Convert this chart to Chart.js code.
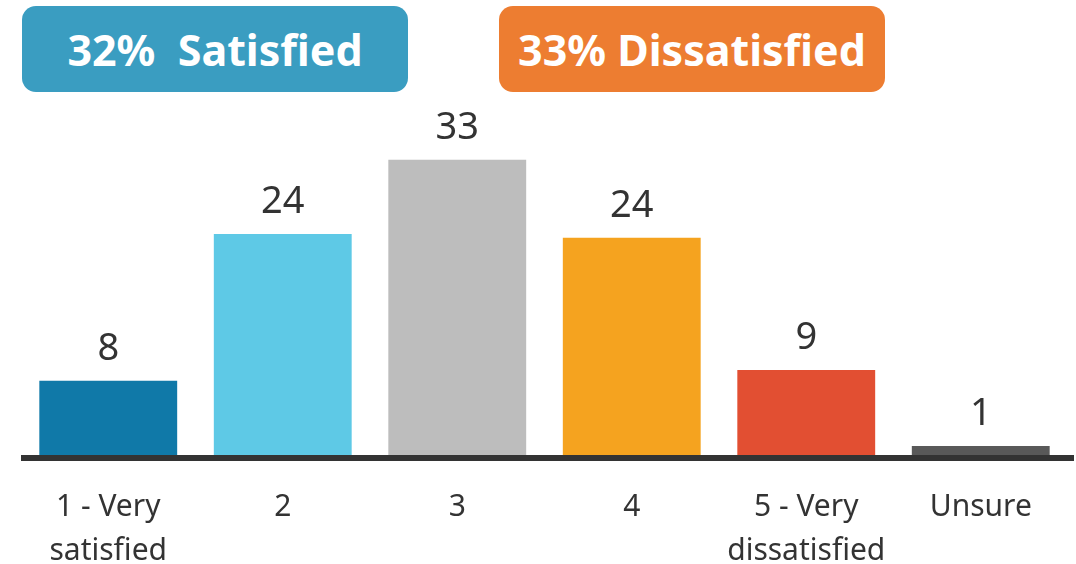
<!DOCTYPE html>
<html>
<head>
<meta charset="utf-8">
<script src="https://cdn.jsdelivr.net/npm/chart.js@4.4.1/dist/chart.umd.min.js"></script>
<style>
  html, body { margin: 0; padding: 0; background: #fff; }
  #wrap { position: relative; width: 1076px; height: 564px; }
  .tag {
    position: absolute; top: 6px; width: 386px; height: 86px;
    border-radius: 14px; color: #fff;
    font: bold 43px "Noto Sans", sans-serif;
    display: flex; align-items: center; justify-content: center;
    white-space: pre;
  }
  #tagSat { left: 22px; background: #3a9dc1; }
  #tagDis { left: 499px; background: #ed7d31; }
</style>
</head>
<body>
<div id="wrap">
  <canvas id="chart" width="1076" height="564"></canvas>
  <div class="tag" id="tagSat">32%  Satisfied</div>
  <div class="tag" id="tagDis">33% Dissatisfied</div>
</div>
<script>
// ================= Data =================
const categories = [['1 - Very', 'satisfied'], '2', '3', '4', ['5 - Very', 'dissatisfied'], 'Unsure'];
const values = [8.3, 24.7, 33, 24.3, 9.5, 1.0];
const valueLabels = ['8', '24', '33', '24', '9', '1'];
const barColors = ['#1079a8', '#5ec9e6', '#bdbdbd', '#f5a31f', '#e24f32', '#595959'];

// value labels above each bar
const valueLabelPlugin = {
  id: 'valueLabels',
  afterDatasetsDraw(chart) {
    const ctx = chart.ctx;
    const meta = chart.getDatasetMeta(0);
    ctx.save();
    ctx.fillStyle = '#333';
    ctx.font = '38px "Noto Sans", sans-serif';
    ctx.textAlign = 'center';
    ctx.textBaseline = 'alphabetic';
    meta.data.forEach((bar, i) => {
      ctx.fillText(valueLabels[i], bar.x, bar.y - 21);
    });
    ctx.restore();
  }
};

// thick baseline under the bars
const baseLinePlugin = {
  id: 'baseLine',
  afterDatasetsDraw(chart) {
    const ctx = chart.ctx;
    const area = chart.chartArea;
    ctx.save();
    ctx.strokeStyle = '#333';
    ctx.lineWidth = 6;
    ctx.beginPath();
    ctx.moveTo(area.left, area.bottom + 3);
    ctx.lineTo(area.right + 6, area.bottom + 3);
    ctx.stroke();
    ctx.restore();
  }
};

new Chart(document.getElementById('chart').getContext('2d'), {
  type: 'bar',
  data: {
    labels: categories,
    datasets: [{
      data: values,
      backgroundColor: barColors,
      borderWidth: 0,
      categoryPercentage: 0.79,
      barPercentage: 1.0
    }]
  },
  options: {
    responsive: false,
    animation: false,
    devicePixelRatio: 1,
    layout: { padding: { left: 21, right: 8, top: 133, bottom: 0 } },
    plugins: { legend: { display: false }, tooltip: { enabled: false } },
    scales: {
      x: {
        grid: { display: false },
        border: { display: false },
        ticks: {
          color: '#333',
          font: { family: 'Noto Sans', size: 30, lineHeight: 1.45 },
          padding: 23,
          maxRotation: 0,
          autoSkip: false
        },
        afterFit(scale) { scale.height = 109; }
      },
      y: {
        display: false,
        min: 0,
        max: 36
      }
    }
  },
  plugins: [valueLabelPlugin, baseLinePlugin]
});
</script>
</body>
</html>
